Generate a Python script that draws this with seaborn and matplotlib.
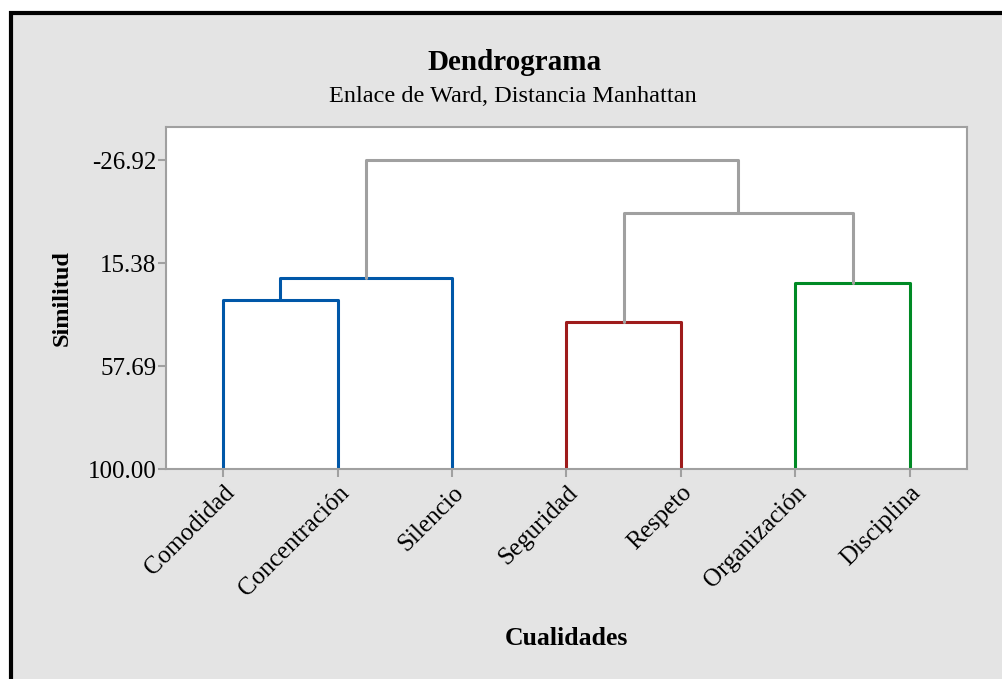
import matplotlib
matplotlib.use('Agg')
import matplotlib.pyplot as plt
import pandas as pd
import seaborn as sns
from matplotlib.patches import Rectangle

# Data
leaves = ['Comodidad', 'Concentración', 'Silencio', 'Seguridad',
          'Respeto', 'Organización', 'Disciplina']
# merges: cluster ids (0..6 leaves, 7.. new clusters), similarity level, colour
merge_a = [0, 7, 3, 5, 9, 8]
merge_b = [1, 2, 4, 6, 10, 11]
merge_sim = [30.58, 21.55, 39.62, 23.60, -5.15, -26.92]
merge_color = ['#0057a8', '#0057a8', '#9e1b1b', '#008a25', '#a0a0a0', '#a0a0a0']
y_ticks = [-26.92, 15.38, 57.69, 100.00]

# Build link paths (U shapes) from merge table
pos = {i: i + 1 for i in range(len(leaves))}
height = {i: 100.0 for i in range(len(leaves))}
rows = []
for k, (a, b, s) in enumerate(zip(merge_a, merge_b, merge_sim)):
    xs = [pos[a], pos[a], pos[b], pos[b]]
    ys = [height[a], s, s, height[b]]
    for x, y in zip(xs, ys):
        rows.append({'link': k, 'x': x, 'y': y})
    new_id = len(leaves) + k
    pos[new_id] = (pos[a] + pos[b]) / 2
    height[new_id] = s
df = pd.DataFrame(rows)

sns.set_style('white')
plt.rcParams['font.family'] = ['Liberation Serif', 'DejaVu Serif']
plt.rcParams['text.color'] = 'black'
plt.rcParams['axes.labelcolor'] = 'black'

fig = plt.figure(figsize=(10.03, 6.79), dpi=100)
fig.patch.set_facecolor('white')
fig.add_artist(Rectangle((11 / 1003, -0.1), 1.2, 0.1 + (679 - 13) / 679,
                         transform=fig.transFigure, facecolor='#e4e4e4',
                         edgecolor='black', linewidth=3, zorder=0))

ax = fig.add_axes([166 / 1003, (679 - 469) / 679, (967 - 166) / 1003, (469 - 127) / 679])
ax.set_facecolor('white')

sns.lineplot(data=df, x='x', y='y', hue='link', palette=dict(enumerate(merge_color)),
             sort=False, estimator=None, legend=False, linewidth=2.2, ax=ax)

ax.set_xlim(0.5, 7.5)
ax.set_ylim(100, -40.5)
ax.set_yticks(y_ticks)
ax.set_yticklabels([f'{v:.2f}' for v in y_ticks], fontsize=18)
ax.set_xticks(range(1, len(leaves) + 1))
ax.set_xticklabels(leaves, rotation=45, ha='right', va='top',
                   rotation_mode='anchor', fontsize=18)

for sp in ax.spines.values():
    sp.set_color('#a0a0a0')
    sp.set_linewidth(1.5)
ax.tick_params(axis='both', direction='out', length=6, width=1.5,
               color='#a0a0a0', labelcolor='black', pad=1)
ax.tick_params(axis='x', bottom=True, pad=3)
ax.tick_params(axis='y', left=True)

ax.set_xlabel('Cualidades', fontsize=18.5, fontweight='bold', labelpad=19)
ax.set_ylabel('Similitud', fontsize=17.5, fontweight='bold', labelpad=11)

fig.text(0.513, (679 - 62) / 679, 'Dendrograma', ha='center', va='center',
         fontsize=21, fontweight='bold')
fig.text(0.511, (679 - 97) / 679, 'Enlace de Ward, Distancia Manhattan',
         ha='center', va='center', fontsize=17.5)

fig.savefig('out.png', dpi=100)
